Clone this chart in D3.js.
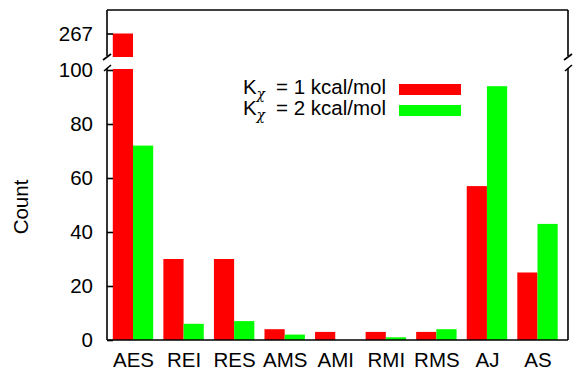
<!DOCTYPE html>
<html><head><meta charset="utf-8">
<script src="https://cdn.jsdelivr.net/npm/d3@7"></script>
<style>
html,body{margin:0;padding:0;background:#fff;}
text{font-family:"Liberation Sans",Arial,Helvetica,sans-serif;fill:#000;}
</style></head>
<body>
<script>
const categories = ["AES","REI","RES","AMS","AMI","RMI","RMS","AJ","AS"];
const series1 = [267,30,30,4,3,3,3,57,25];   // K_chi = 1 kcal/mol
const series2 = [72,6,7,2,0,1,4,94,43];      // K_chi = 2 kcal/mol
const lowerTicks = [0,20,40,60,80,100];
const upperTicks = [267];
const seriesNames = ["= 1 kcal/mol","= 2 kcal/mol"];
const colors = ["#ff0000","#00ff00"];

const W=575,H=370;
const L=107,R=568,T=10,B=340;
const svg=d3.select("body").append("svg").attr("width",W).attr("height",H);

const x=d3.scaleLinear().domain([0,categories.length-1]).range([133,537.5]);
const bw=20.2;
const yL=d3.scaleLinear().domain([0,100]).range([B,70]);
const yU=d3.scaleLinear().domain([254,280]).range([57,10]);
const breakLo=100, breakHi=254;

const g=svg.append("g");
[series1,series2].forEach((s,si)=>{
  s.forEach((v,i)=>{
    const x0 = si===0 ? x(i)-bw : x(i);
    const vl=Math.min(v,breakLo);
    const top = v>breakLo ? yL(breakLo)-1 : yL(vl);
    g.append("rect").attr("x",x0).attr("width",bw)
      .attr("y",top).attr("height",B-top).attr("fill",colors[si]);
    if(v>breakHi){
      g.append("rect").attr("x",x0).attr("width",bw)
        .attr("y",yU(v)).attr("height",yU(breakHi)-yU(v)).attr("fill",colors[si]);
    }
  });
});

// frame
const ax=svg.append("g").attr("stroke","#000").attr("stroke-width",1.6).attr("fill","none");
ax.append("line").attr("x1",L).attr("x2",R).attr("y1",T).attr("y2",T);
ax.append("line").attr("x1",L).attr("x2",R).attr("y1",B).attr("y2",B);
[L,R].forEach(xx=>{
  ax.append("line").attr("x1",xx).attr("x2",xx).attr("y1",T).attr("y2",56);
  ax.append("line").attr("x1",xx).attr("x2",xx).attr("y1",68).attr("y2",B);
  ax.append("line").attr("x1",xx-4).attr("x2",xx+4).attr("y1",60).attr("y2",54);
  ax.append("line").attr("x1",xx-3).attr("x2",xx+4).attr("y1",71).attr("y2",65);
});

// left axis ticks
const lowerAxis=d3.axisLeft(yL).tickValues(lowerTicks).tickSizeInner(-6).tickSizeOuter(0).tickPadding(14);
const upperAxis=d3.axisLeft(yU).tickValues(upperTicks).tickSizeInner(-6).tickSizeOuter(0).tickPadding(14);
[lowerAxis,upperAxis].forEach(a=>{
  const ga=svg.append("g").attr("transform",`translate(${L},0)`).call(a);
  ga.select(".domain").remove();
  ga.selectAll("line").attr("stroke","#000").attr("stroke-width",1.6);
  ga.selectAll("text").attr("font-size",20.5).attr("font-family","Liberation Sans, Arial, sans-serif").attr("fill","#000");
});

// x labels
const xa=d3.axisBottom(x).tickValues(d3.range(categories.length)).tickFormat(i=>categories[i]).tickSize(0).tickPadding(0);
const gx=svg.append("g").attr("transform",`translate(0,${B})`).call(xa);
gx.select(".domain").remove();
gx.selectAll("text").attr("font-size",20.5).attr("font-family","Liberation Sans, Arial, sans-serif").attr("fill","#000").attr("dy",null).attr("y",26.5);

// y label
svg.append("text").attr("transform","translate(28,207) rotate(-90)").attr("text-anchor","middle")
  .attr("font-size",20.5).text("Count");

// legend
const legY=[94,115];
seriesNames.forEach((n,i)=>{
  svg.append("text").attr("x",243).attr("y",legY[i]).attr("font-size",20.5).text("K");
  svg.append("text").attr("x",256.5).attr("y",legY[i]+5).attr("font-size",14)
    .style("font-family","'DejaVu Serif', serif").style("font-style","italic").text("\u03c7");
  svg.append("text").attr("x",386).attr("y",legY[i]).attr("text-anchor","end").attr("font-size",20.5).text(n);
  svg.append("rect").attr("x",399).attr("width",62).attr("y",legY[i]-10).attr("height",11).attr("fill",colors[i]);
});
</script>
</body></html>
